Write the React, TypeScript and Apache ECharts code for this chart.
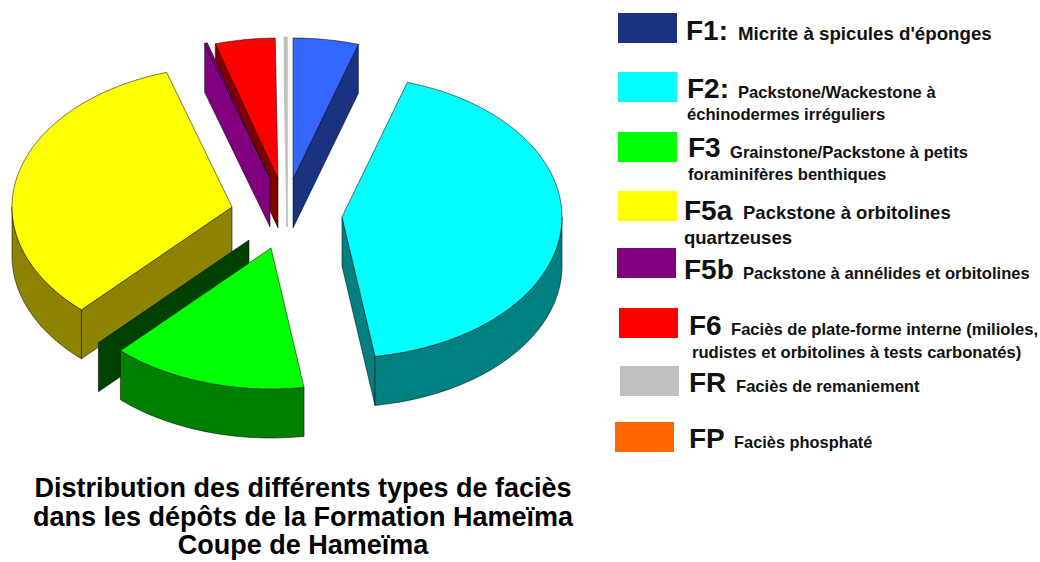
import React, { useEffect, useRef } from "react";
import * as echarts from "echarts";

// ---- data (percent of section) ----
const facies = ["F1", "F2", "F3", "F5a", "F5b", "F6", "FR", "FP"];
const percents = [4.8, 42.8, 14.4, 33.2, 0.2, 4.4, 0.2, 0];
const descriptions = [
  ["Micrite à spicules d'éponges"],
  ["Packstone/Wackestone à", "échinodermes irréguliers"],
  ["Grainstone/Packstone à petits", "foraminifères benthiques"],
  ["Packstone à orbitolines", "quartzeuses"],
  ["Packstone à annélides et orbitolines"],
  ["Faciès de plate-forme interne (milioles,", "rudistes et orbitolines à tests carbonatés)"],
  ["Faciès de remaniement"],
  ["Faciès phosphaté"],
];
const bigLabels = ["F1:", "F2:", "F3", "F5a", "F5b", "F6", "FR", "FP"];
const titleLines = [
  "Distribution des différents types de faciès",
  "dans les dépôts de la Formation Hameïma",
  "Coupe de Hameïma",
];

// ---- styling ----
const topColors = ["#3366FF", "#00FFFF", "#00FF00", "#FFFF00", "#800080", "#FF0000", "#C0C0C0", "#FF6600"];
const wallColors = ["#1A3380", "#008080", "#008000", "#8C8400", "#800080", "#800000", "#C0C0C0", "#803300"];
const swatchColors = ["#1A3380", "#00FFFF", "#00FF00", "#FFFF00", "#800080", "#FF0000", "#C0C0C0", "#FF6600"];

// ---- exploded pie geometry ----
const RX = 220;
const RY = 141;
const DEPTH = 49;
const apexX = [293, 342, 271, 232, 270, 278, 287, 287];
const apexY = [179, 217, 248, 207, 178, 179, 178, 178];
const drawOrder = [6, 5, 4, 0, 3, 1, 2];
const strayWall = { index: 2, dx: -22, dy: -8, color: "#004000" };

// ---- legend layout: swatch [x, y], big label [x, yMid], lines [x, yMid, size] ----
const SW_W = 59;
const SW_H = 30;
const swatches = [[618, 13], [618, 72], [618, 132], [618, 191], [617, 248], [619, 308], [620, 366], [615, 422]];
const bigPos = [[686, 30], [687, 88], [688, 147], [684, 210], [684, 269], [689, 325], [689, 382], [689, 438]];
const linePos = [
  [[738, 33, 18.7]],
  [[738, 92, 16.6], [687, 114, 16.6]],
  [[730, 152, 16.6], [688, 174, 16.6]],
  [[743, 212, 18.5], [684, 237, 18.5]],
  [[743, 273, 16.6]],
  [[731, 329, 16.6], [692, 352, 16.6]],
  [[736, 386, 16.6]],
  [[734, 442, 16.4]],
];

const FONT = '"Liberation Sans", Arial, sans-serif';
const OUTLINE = "rgba(0,0,0,0.65)";

const rad = (d: number) => (d * Math.PI) / 180;

const sliceAngles = (() => {
  let acc = 0;
  return percents.map((p) => {
    const a0 = acc;
    acc += p * 3.6;
    return [a0, acc];
  });
})();

function rim(i: number, t: number, drop = 0): number[] {
  return [apexX[i] + RX * Math.sin(rad(t)), apexY[i] - RY * Math.cos(rad(t)) + drop];
}

function arcPoints(i: number, a: number, b: number, drop = 0): number[][] {
  const pts: number[][] = [];
  const n = Math.max(2, Math.ceil(Math.abs(b - a) / 2));
  for (let k = 0; k <= n; k++) pts.push(rim(i, a + ((b - a) * k) / n, drop));
  return pts;
}

function poly(points: number[][], fill: string, stroke: string, lineWidth = 0.8) {
  return { type: "polygon", shape: { points }, style: { fill, stroke, lineWidth } };
}

function renderSlice(_params: any, api: any) {
  const i = api.value(0);
  const t0 = api.value(1);
  const t1 = api.value(2);
  const line = i === 6 ? "#C0C0C0" : OUTLINE;
  const apex = [apexX[i], apexY[i]];
  const apexLow = [apexX[i], apexY[i] + DEPTH];
  const children: any[] = [];

  if (i === strayWall.index) {
    const shift = (p: number[]) => [p[0] + strayWall.dx, p[1] + strayWall.dy];
    children.push(
      poly(
        [shift(apex), shift(rim(i, t1)), shift(rim(i, t1, DEPTH)), shift(apexLow)],
        strayWall.color,
        OUTLINE
      )
    );
  }
  // cut faces
  if (Math.sin(rad(t0)) < 0) {
    children.push(poly([apex, rim(i, t0), rim(i, t0, DEPTH), apexLow], wallColors[i], line));
  }
  if (Math.sin(rad(t1)) > 0) {
    children.push(poly([apex, rim(i, t1), rim(i, t1, DEPTH), apexLow], wallColors[i], line));
  }
  // outer wall (front half only)
  const a = Math.max(t0, 90);
  const b = Math.min(t1, 270);
  if (b > a) {
    children.push(
      poly([...arcPoints(i, a, b), ...arcPoints(i, b, a, DEPTH)], wallColors[i], line)
    );
  }
  // top face
  children.push(poly([apex, ...arcPoints(i, t0, t1)], topColors[i], line));
  return { type: "group", children };
}

function legendGraphics() {
  const out: any[] = [];
  facies.forEach((_f, i) => {
    out.push({
      type: "rect",
      shape: { x: swatches[i][0], y: swatches[i][1], width: SW_W, height: SW_H },
      style: { fill: swatchColors[i] },
    });
    out.push({
      type: "text",
      x: bigPos[i][0],
      y: bigPos[i][1],
      style: {
        text: bigLabels[i],
        font: `bold 28px ${FONT}`,
        fill: "#111",
        align: "left",
        verticalAlign: "middle",
      },
    });
    descriptions[i].forEach((txt, k) => {
      const [x, y, size] = linePos[i][k];
      out.push({
        type: "text",
        x,
        y,
        style: {
          text: txt,
          font: `bold ${size}px ${FONT}`,
          fill: "#111",
          align: "left",
          verticalAlign: "middle",
        },
      });
    });
  });
  titleLines.forEach((txt, k) => {
    out.push({
      type: "text",
      x: 303,
      y: 488 + k * 28.5,
      style: {
        text: txt,
        font: `bold 27px ${FONT}`,
        fill: "#000",
        align: "center",
        verticalAlign: "middle",
      },
    });
  });
  return out;
}

export default function App() {
  const ref = useRef<HTMLDivElement>(null);
  useEffect(() => {
    document.body.style.margin = "0";
    const chart = echarts.init(ref.current!, undefined, { renderer: "svg" });
    chart.setOption({
      animation: false,
      backgroundColor: "#fff",
      series: [
        {
          type: "custom",
          coordinateSystem: "none",
          renderItem: renderSlice,
          silent: true,
          data: drawOrder.map((i) => [i, sliceAngles[i][0], sliceAngles[i][1]]),
        },
      ],
      graphic: legendGraphics(),
    });
    return () => chart.dispose();
  }, []);
  return <div ref={ref} style={{ width: 1040, height: 562 }} />;
}
